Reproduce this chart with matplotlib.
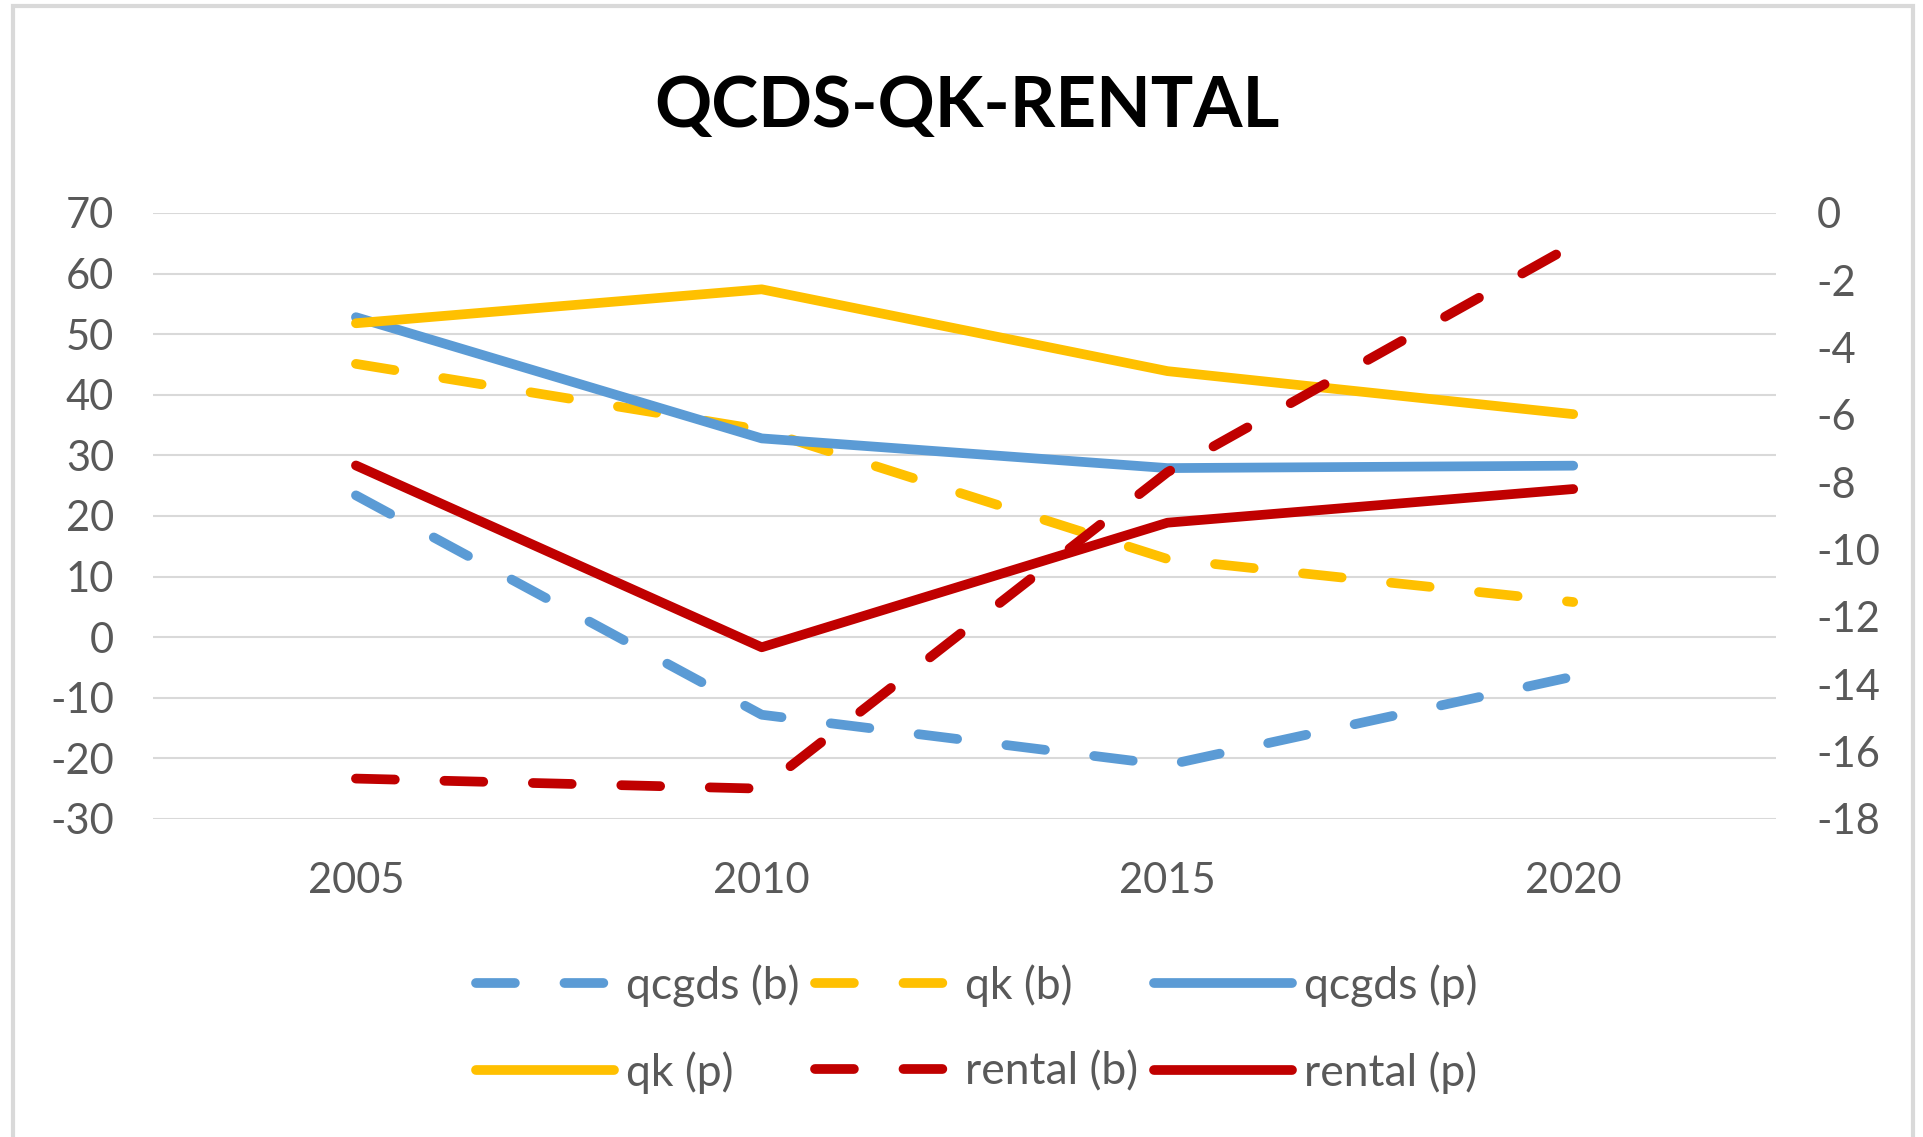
import numpy as np
import matplotlib.pyplot as plt
from matplotlib.patches import Rectangle

plt.rcParams['font.family'] = ['Lato', 'DejaVu Sans']
plt.rcParams['axes.unicode_minus'] = False

# data
years = ['2005', '2010', '2015', '2020']
qcgds_b = [23.4, -12.8, -21.1, -6.5]
qk_b = [45.1, 34.2, 12.9, 5.8]
qcgds_p = [52.8, 32.8, 27.9, 28.3]
qk_p = [51.8, 57.4, 43.9, 36.8]
# rental series sit on the secondary axis
rental_b = [-16.8, -17.1, -7.7, -0.95]
rental_p = [-7.5, -12.9, -9.2, -8.2]

left_ticks = np.arange(-30, 71, 10)
right_ticks = np.arange(-18, 1, 2)

BLUE = '#5B9BD5'
GOLD = '#FFC000'
RED = '#C00000'
TXT = '#595959'
GRID = '#D9D9D9'

fig = plt.figure(figsize=(19.23, 11.37), dpi=100)
ax = fig.add_axes([0.0796, 0.2797, 0.844, 0.533])
ax2 = ax.twinx()

x = np.arange(len(years))
lw = 7
dash = (0, (4.0, 5.1))
kw = dict(linewidth=lw, solid_capstyle='round', dash_capstyle='round', solid_joinstyle='round')

l1, = ax.plot(x, qcgds_b, color=BLUE, linestyle=dash, label='qcgds (b)', **kw)
l2, = ax.plot(x, qk_b, color=GOLD, linestyle=dash, label='qk (b)', **kw)
l3, = ax.plot(x, qcgds_p, color=BLUE, linestyle='-', label='qcgds (p)', **kw)
l4, = ax.plot(x, qk_p, color=GOLD, linestyle='-', label='qk (p)', **kw)
l5, = ax2.plot(x, rental_b, color=RED, linestyle=dash, label='rental (b)', **kw)
l6, = ax2.plot(x, rental_p, color=RED, linestyle='-', label='rental (p)', **kw)

# axes
ax.set_xlim(-0.5, len(years) - 0.5)
ax.set_ylim(-30, 70)
ax.set_yticks(left_ticks)
ax2.set_ylim(-18, 0)
ax2.set_yticks(right_ticks)
ax.set_xticks(x)
ax.set_xticklabels(years)
ax.grid(axis='y', color=GRID, linewidth=1.5)
ax.set_axisbelow(True)
for a in (ax, ax2):
    for s in a.spines.values():
        s.set_visible(False)
ax.tick_params(axis='y', length=0, labelsize=30, labelcolor=TXT, pad=28)
ax.tick_params(axis='x', length=0, labelsize=30, labelcolor=TXT, pad=31)
ax2.tick_params(axis='y', length=0, labelsize=30, labelcolor=TXT, pad=29)

fig.text(0.503, 0.906, 'QCDS-QK-RENTAL', ha='center', va='center',
         fontsize=51, fontweight='bold', color='black')

# legend, column-major order so the rows read like the original
handles = [l1, l4, l2, l5, l3, l6]
leg = fig.legend(handles=handles, labels=[h.get_label() for h in handles],
                 ncol=3, loc='center', bbox_to_anchor=(0.508, 0.095),
                 frameon=False, fontsize=32, labelcolor=TXT,
                 handlelength=3.1, handletextpad=0.28, columnspacing=0.35,
                 labelspacing=1.0)

# light outer border of the chart area
fig.patches.append(Rectangle((13 / 1923, -0.02), 1900 / 1923, 1.02 - 6 / 1137,
                             transform=fig.transFigure, fill=False,
                             edgecolor=GRID, linewidth=3))

fig.savefig('out.png', dpi=100)
